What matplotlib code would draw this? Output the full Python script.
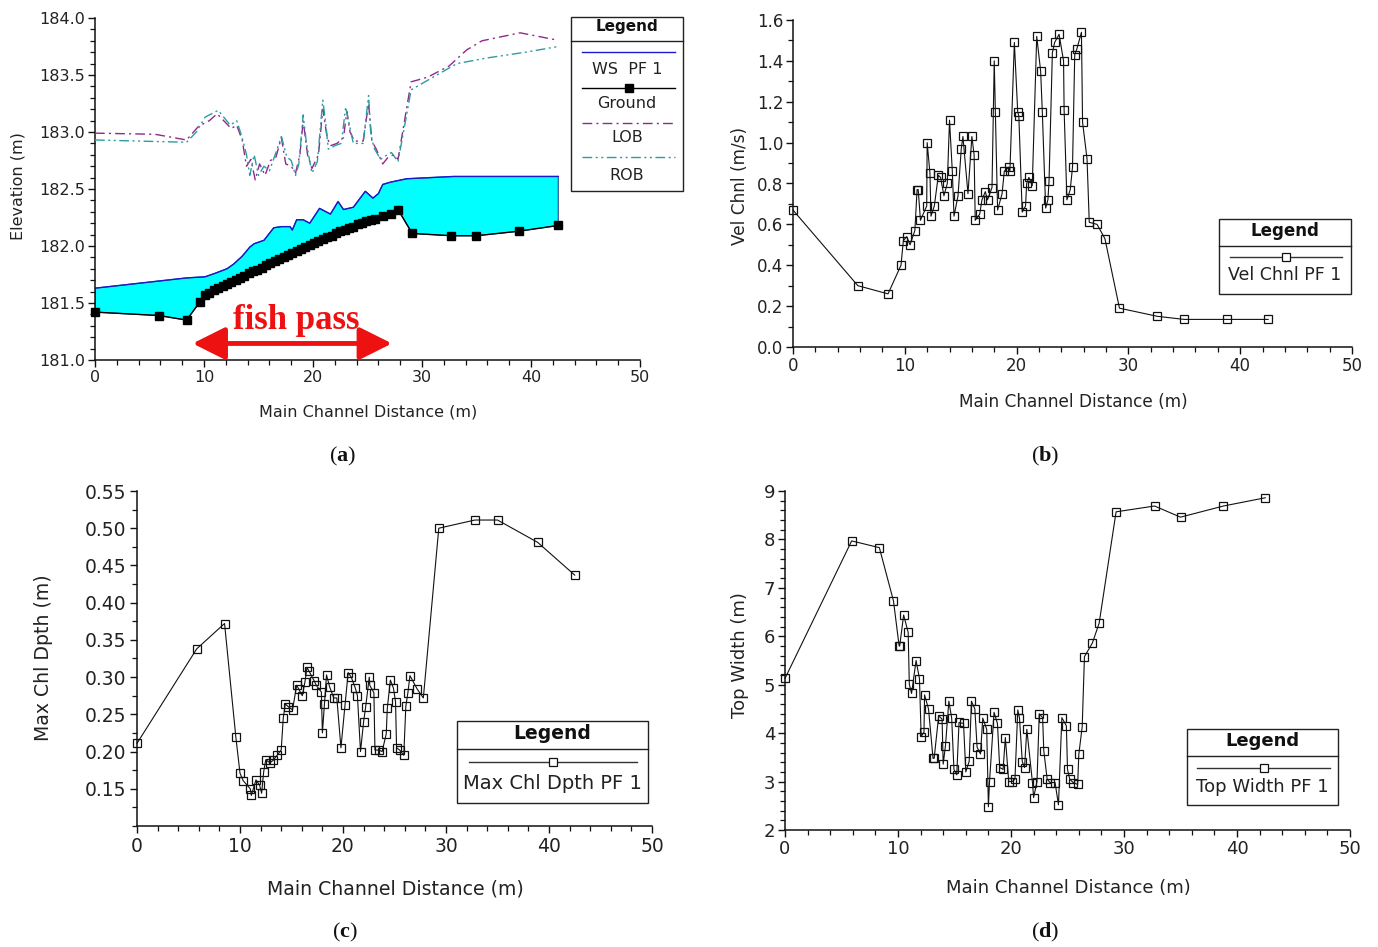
import matplotlib
matplotlib.use("Agg")
import matplotlib.pyplot as plt
from matplotlib.lines import Line2D
from matplotlib.patches import Rectangle, FancyArrowPatch
from matplotlib.ticker import MultipleLocator, FormatStrFormatter

plt.rcParams['font.family'] = ['DejaVu Sans']
plt.rcParams['mathtext.fontset'] = 'custom'
plt.rcParams['mathtext.rm'] = 'Liberation Serif'
plt.rcParams['mathtext.bf'] = 'Liberation Serif:bold'

# ---------------- data ----------------
# (a) profile
ws_x = [0, 8.4, 10.1, 11.0, 12.1, 12.7, 13.5, 14.2, 14.6, 15.5, 16.4, 17.1, 17.9, 18.1, 18.5,
        19.1, 19.7, 20.6, 21.6, 22.3, 22.8, 23.7, 24.8, 25.5, 26.0, 26.4, 27.1, 28.6, 32.9, 42.5]
ws_z = [181.63, 181.72, 181.73, 181.76, 181.80, 181.84, 181.91, 181.99, 182.02, 182.05, 182.16,
        182.17, 182.17, 182.14, 182.23, 182.23, 182.20, 182.33, 182.28, 182.39, 182.32, 182.34,
        182.48, 182.42, 182.46, 182.54, 182.56, 182.59, 182.61, 182.61]

ground_x = [0, 5.87, 8.4, 9.63, 10.1,
            10.5, 10.9, 11.3, 11.7, 12.1, 12.5, 12.9, 13.3, 13.7, 14.1, 14.5, 14.9, 15.3, 15.7,
            16.1, 16.5, 16.9, 17.3, 17.7, 18.1, 18.5, 18.9, 19.3, 19.7, 20.1, 20.5, 20.9, 21.3,
            21.7, 22.1, 22.5, 22.9, 23.3, 23.7, 24.1, 24.5, 24.9, 25.3, 25.7,
            26.45, 27.2, 27.8, 29.1, 32.7, 35.0, 38.9, 42.5]
ground_z = [181.42, 181.39, 181.35, 181.51, 181.57,
            181.59, 181.61, 181.63, 181.65, 181.67, 181.68, 181.70, 181.72, 181.74, 181.76,
            181.78, 181.79, 181.81, 181.83, 181.85, 181.87, 181.89, 181.90, 181.92, 181.94,
            181.96, 181.97, 181.99, 182.01, 182.03, 182.04, 182.06, 182.08, 182.09, 182.11,
            182.13, 182.14, 182.16, 182.17, 182.19, 182.20, 182.22, 182.23, 182.24,
            182.26, 182.28, 182.32, 182.11, 182.09, 182.09, 182.13, 182.18]

lob_x = [0, 5.5, 8.4, 9.5, 10.5, 11.2, 11.8, 12.5, 13.0, 13.5, 13.9, 14.3, 14.7, 15.1, 15.6,
         16.1, 16.6, 17.1, 17.5, 18.0, 18.4, 18.8, 19.1, 19.5, 19.9, 20.5, 20.9, 21.3, 21.6,
         22.2, 22.8, 23.1, 23.4, 23.8, 24.6, 25.1, 25.4, 25.8, 26.4, 26.9, 27.4, 27.8, 28.4,
         29.0, 30.5, 32.5, 34.1, 35.5, 39.0, 42.2]
lob_z = [182.99, 182.98, 182.93, 183.05, 183.10, 183.16, 183.10, 183.03, 183.06, 182.93, 182.70,
         182.76, 182.58, 182.72, 182.62, 182.75, 182.78, 182.95, 182.72, 182.70, 182.64, 182.80,
         183.10, 182.80, 182.68, 182.80, 183.20, 182.95, 182.88, 182.90, 182.95, 183.18, 183.00,
         182.92, 182.92, 183.25, 182.92, 182.85, 182.72, 182.78, 182.80, 182.76, 183.10, 183.44,
         183.48, 183.58, 183.72, 183.80, 183.87, 183.81]

rob_x = [0, 8.4, 9.3, 10.1, 11.3, 11.9, 12.4, 13.0, 13.5, 13.9, 14.2, 14.6, 15.0, 15.5, 16.0,
         16.6, 17.1, 17.6, 18.0, 18.4, 18.7, 19.1, 19.4, 19.9, 20.4, 20.9, 21.2, 21.4, 22.0,
         22.6, 23.0, 23.3, 23.7, 24.6, 25.1, 25.3, 25.6, 26.2, 26.8, 27.2, 27.8, 28.4, 29.0,
         31.0, 33.2, 36.0, 39.5, 42.5]
rob_z = [182.93, 182.91, 183.00, 183.13, 183.19, 183.12, 183.06, 183.10, 182.95, 182.80, 182.62,
         182.80, 182.62, 182.70, 182.66, 182.82, 182.96, 182.78, 182.75, 182.62, 182.72, 183.15,
         182.90, 182.64, 182.74, 183.28, 183.05, 182.85, 182.88, 182.90, 183.22, 183.08, 182.90,
         182.90, 183.32, 182.98, 182.86, 182.76, 182.80, 182.82, 182.74, 183.05, 183.37, 183.48,
         183.60, 183.65, 183.70, 183.75]

# (b) channel velocity
vel_x = [0, 5.8, 8.5, 9.66, 9.87, 10.17, 10.47, 10.9, 11.1, 11.2, 11.4, 11.96, 12.0, 12.25, 12.34,
         12.64, 13.0, 13.2, 13.5, 13.8, 14.0, 14.25, 14.4, 14.76, 15.05, 15.2, 15.65, 16.0, 16.2,
         16.3, 16.7, 16.9, 17.2, 17.4, 17.8, 18.0, 18.1, 18.3, 18.7, 18.9, 19.3, 19.4, 19.8, 20.1,
         20.2, 20.5, 20.8, 20.9, 21.1, 21.4, 21.8, 22.15, 22.3, 22.6, 22.8, 22.9, 23.2, 23.4, 23.8,
         24.2, 24.25, 24.5, 24.8, 25.0, 25.2, 25.4, 25.8, 25.9, 26.3, 26.5, 27.2, 27.9, 29.2, 32.6,
         35.0, 38.8, 42.5]
vel_v = [0.67, 0.30, 0.26, 0.40, 0.52, 0.54, 0.50, 0.57, 0.77, 0.77, 0.62, 0.69, 1.00, 0.85, 0.64,
         0.69, 0.84, 0.83, 0.74, 0.80, 1.11, 0.86, 0.64, 0.74, 0.97, 1.03, 0.75, 1.03, 0.94, 0.62,
         0.65, 0.72, 0.76, 0.72, 0.78, 1.40, 1.15, 0.67, 0.75, 0.86, 0.88, 0.86, 1.49, 1.15, 1.13,
         0.66, 0.69, 0.80, 0.83, 0.79, 1.52, 1.35, 1.15, 0.68, 0.72, 0.81, 1.44, 1.49, 1.53, 1.40,
         1.16, 0.72, 0.77, 0.88, 1.43, 1.46, 1.54, 1.10, 0.92, 0.61, 0.60, 0.53, 0.19, 0.15, 0.135,
         0.135, 0.135]

# (c) max channel depth
dep_x = [0, 5.8, 8.5, 9.6, 10.0, 10.3, 11.0, 11.1, 11.55, 11.9, 12.1, 12.3, 12.5, 12.9, 13.2,
         13.6, 14.0, 14.2, 14.4, 14.7, 15.1, 15.5, 15.7, 16.05, 16.3, 16.5, 16.7, 17.2, 17.4, 17.9,
         18.0, 18.2, 18.4, 18.7, 19.1, 19.4, 19.8, 20.2, 20.5, 20.8, 21.2, 21.4, 21.7, 22.0, 22.2,
         22.55, 22.6, 23.0, 23.1, 23.5, 23.8, 24.2, 24.3, 24.6, 24.9, 25.1, 25.2, 25.5, 25.9, 26.1,
         26.3, 26.5, 27.2, 27.8, 29.3, 32.8, 35.0, 38.9, 42.5]
dep_d = [0.211, 0.338, 0.372, 0.219, 0.171, 0.161, 0.150, 0.141, 0.162, 0.155, 0.144, 0.173, 0.189,
         0.185, 0.188, 0.195, 0.202, 0.245, 0.264, 0.260, 0.256, 0.289, 0.284, 0.275, 0.293, 0.313,
         0.308, 0.295, 0.289, 0.280, 0.225, 0.264, 0.303, 0.287, 0.272, 0.272, 0.205, 0.263, 0.306,
         0.300, 0.285, 0.275, 0.200, 0.240, 0.260, 0.300, 0.289, 0.279, 0.202, 0.202, 0.200, 0.224,
         0.258, 0.296, 0.285, 0.267, 0.205, 0.202, 0.195, 0.261, 0.279, 0.302, 0.284, 0.272, 0.500,
         0.511, 0.511, 0.481, 0.437]

# (d) top width
tw_x = [0, 5.9, 8.35, 9.6, 10.1, 10.15, 10.5, 10.9, 11.0, 11.2, 11.6, 11.9, 12.05, 12.3, 12.35,
        12.7, 13.1, 13.2, 13.6, 13.9, 14.0, 14.2, 14.5, 14.75, 14.95, 15.2, 15.4, 15.8, 16.0, 16.3,
        16.5, 16.8, 17.0, 17.3, 17.5, 17.85, 18.0, 18.1, 18.5, 18.8, 19.0, 19.3, 19.5, 19.8, 20.1,
        20.35, 20.6, 20.75, 21.0, 21.2, 21.4, 21.9, 22.0, 22.3, 22.5, 22.8, 22.9, 23.2, 23.45, 23.9,
        24.2, 24.5, 24.9, 25.0, 25.2, 25.5, 25.9, 26.0, 26.3, 26.5, 27.2, 27.8, 29.3, 32.7, 35.0,
        38.8, 42.5]
tw_w = [5.13, 7.97, 7.83, 6.73, 5.80, 5.80, 6.44, 6.08, 5.01, 4.82, 5.50, 5.12, 3.93, 4.02, 4.79,
        4.50, 3.48, 3.48, 4.36, 4.29, 3.36, 3.74, 4.66, 4.31, 3.25, 3.14, 4.22, 4.20, 3.20, 3.42,
        4.66, 4.50, 3.71, 3.57, 4.31, 4.08, 2.48, 3.00, 4.43, 4.20, 3.29, 3.25, 3.91, 3.00, 3.00,
        3.05, 4.48, 4.31, 3.41, 3.29, 4.08, 2.98, 2.67, 3.00, 4.40, 4.32, 3.64, 3.05, 2.98, 2.98,
        2.52, 4.32, 4.15, 3.25, 3.05, 2.98, 2.94, 3.56, 4.13, 5.58, 5.86, 6.27, 8.57, 8.69, 8.46,
        8.69, 8.86]

# ---------------- figure ----------------
W, H = 1378, 947
fig = plt.figure(figsize=(W / 100, H / 100), dpi=100)

def rect(l, t, r, b):
    return [l / W, 1 - b / H, (r - l) / W, (b - t) / H]

def fx(x):
    return x / W

def fy(y):
    return 1 - y / H

BOXES = {'a': (95, 18, 640, 360), 'b': (793, 20, 1352, 347),
         'c': (137, 491, 652, 826), 'd': (785, 491, 1350, 830)}

def style_axes(ax, box, xmaj, xmin, ymaj, ymin, fmt, tsize, yticks=None):
    for s in ('top', 'right'):
        ax.spines[s].set_visible(False)
    for s in ('left', 'bottom'):
        ax.spines[s].set_linewidth(1.1)
        ax.spines[s].set_color('#111111')
    ax.xaxis.set_major_locator(MultipleLocator(xmaj))
    ax.xaxis.set_minor_locator(MultipleLocator(xmin))
    if yticks is not None:
        ax.set_yticks(yticks)
    else:
        ax.yaxis.set_major_locator(MultipleLocator(ymaj))
    ax.yaxis.set_minor_locator(MultipleLocator(ymin))
    ax.yaxis.set_major_formatter(FormatStrFormatter(fmt))
    ax.tick_params(which='major', direction='out', length=5, width=1.0, labelsize=tsize,
                   pad=2, colors='#111111', labelcolor='#222222')
    ax.tick_params(which='minor', direction='out', length=3.5, width=0.9, colors='#111111')

def set_labels(ax, box, xl, xpos, yl, ypos, size):
    l, t, r, b = box
    ax.set_xlabel(xl, fontsize=size, color='#222222', va='center', ha='center')
    ax.set_ylabel(yl, fontsize=size, color='#222222', va='center', ha='center')
    ax.xaxis.set_label_coords((xpos[0] - l) / (r - l), (b - xpos[1]) / (b - t))
    ax.yaxis.set_label_coords((ypos[0] - l) / (r - l), (b - ypos[1]) / (b - t))

def legend_box(l, t, r, b, header_y, sep_y, hsize, entries):
    fig.add_artist(Rectangle((fx(l), fy(b)), (r - l) / W, (b - t) / H, transform=fig.transFigure,
                             fill=True, fc='white', ec='#222222', lw=1.0, zorder=5))
    fig.text(fx((l + r) / 2), fy(header_y), 'Legend', fontsize=hsize, fontweight='bold',
             ha='center', va='center', color='#111111', zorder=6)
    fig.add_artist(Line2D([fx(l), fx(r)], [fy(sep_y)] * 2, transform=fig.transFigure,
                          color='#222222', lw=1.0, zorder=6))
    for (ly, lx0, lx1, lkw, mk, ty, txt, tsize) in entries:
        fig.add_artist(Line2D([fx(lx0), fx(lx1)], [fy(ly)] * 2, transform=fig.transFigure,
                              zorder=6, **lkw))
        if mk is not None:
            fig.add_artist(Line2D([fx((lx0 + lx1) / 2)], [fy(ly)], transform=fig.transFigure,
                                  zorder=7, linestyle='none', **mk))
        fig.text(fx((l + r) / 2), fy(ty), txt, fontsize=tsize, ha='center', va='center',
                 color='#222222', zorder=6)

open_sq = dict(marker='s', markersize=6, mfc='none', mec='#111111', mew=0.9)

# ---------- (a) ----------
axA = fig.add_axes(rect(*BOXES['a']))
axA.set_xlim(0, 50)
axA.set_ylim(181.0, 184.0)
axA.fill(list(ws_x) + list(ground_x[::-1]), list(ws_z) + list(ground_z[::-1]),
         fc='#00ffff', ec='#2a4a8a', lw=0.8, zorder=1)
axA.plot(ws_x, ws_z, color='#1a1acc', lw=1.0, zorder=2)
axA.plot(lob_x, lob_z, color='#8e2a8e', lw=1.0, dashes=(7, 3, 1.5, 3), zorder=3)
axA.plot(rob_x, rob_z, color='#2a9e9e', lw=1.0, dashes=(7, 2.5, 1.5, 2.5, 1.5, 2.5), zorder=3)
axA.plot(ground_x, ground_z, color='black', lw=1.0, marker='s', markersize=5.5,
         mfc='black', mec='black', zorder=4, clip_on=False)
style_axes(axA, BOXES['a'], 10, 2, 0.5, 0.1, '%.1f', 11.5)
set_labels(axA, BOXES['a'], 'Main Channel Distance (m)', (368, 412), 'Elevation (m)', (18, 186), 11.5)
axA.text(18.5, 181.35, 'fish pass', fontsize=25, fontweight='bold', color='#ee1111',
         family='Liberation Serif', ha='center', va='center')
axA.add_patch(FancyArrowPatch((8.7, 181.145), (27.5, 181.145),
                              arrowstyle='<|-|>,head_length=0.9,head_width=0.45',
                              mutation_scale=22, color='#ee1111', lw=3.5, zorder=5))

legend_box(571, 17, 683, 191, 27, 41, 11, [
    (52, 582, 675, dict(color='#1a1acc', lw=1.0), None, 69, 'WS  PF 1', 11.5),
    (88, 582, 675, dict(color='black', lw=1.0), dict(marker='s', markersize=5.5, mfc='black', mec='black'), 104, 'Ground', 11.5),
    (123, 582, 675, dict(color='#8e2a8e', lw=1.0, dashes=(7, 3, 1.5, 3)), None, 138, 'LOB', 11.5),
    (157, 582, 675, dict(color='#2a9e9e', lw=1.0, dashes=(7, 2.5, 1.5, 2.5, 1.5, 2.5)), None, 175, 'ROB', 11.5),
])

# ---------- (b) ----------
axB = fig.add_axes(rect(*BOXES['b']))
axB.set_xlim(0, 50)
axB.set_ylim(0, 1.6)
axB.plot(vel_x, vel_v, color='#111111', lw=0.8, clip_on=False, **open_sq)
style_axes(axB, BOXES['b'], 10, 2, 0.2, 0.1, '%.1f', 12)
set_labels(axB, BOXES['b'], 'Main Channel Distance (m)', (1073, 402), 'Vel Chnl (m/s)', (740, 186), 12.2)
legend_box(1219, 219, 1351, 294, 231, 246, 12, [
    (257, 1230, 1342, dict(color='#333333', lw=1.0), dict(marker='s', markersize=6, mfc='white', mec='#111111', mew=0.9), 275, 'Vel Chnl PF 1', 12.5),
])

# ---------- (c) ----------
axC = fig.add_axes(rect(*BOXES['c']))
axC.set_xlim(0, 50)
axC.set_ylim(0.10, 0.55)
axC.plot(dep_x, dep_d, color='#111111', lw=0.8, clip_on=False, **open_sq)
style_axes(axC, BOXES['c'], 10, 2, 0.05, 0.025, '%.2f', 13.5,
           yticks=[0.15, 0.20, 0.25, 0.30, 0.35, 0.40, 0.45, 0.50, 0.55])
axC.tick_params(which='major', pad=3)
set_labels(axC, BOXES['c'], 'Main Channel Distance (m)', (395, 889), 'Max Chl Dpth (m)', (44, 658), 13.6)
legend_box(457, 721, 648, 803, 733, 749, 13.5, [
    (762, 469, 637, dict(color='#333333', lw=1.0), dict(marker='s', markersize=6, mfc='white', mec='#111111', mew=0.9), 783, 'Max Chl Dpth PF 1', 14),
])

# ---------- (d) ----------
axD = fig.add_axes(rect(*BOXES['d']))
axD.set_xlim(0, 50)
axD.set_ylim(2, 9)
axD.plot(tw_x, tw_w, color='#111111', lw=0.8, clip_on=False, **open_sq)
style_axes(axD, BOXES['d'], 10, 2, 1, 0.2, '%d', 13)
set_labels(axD, BOXES['d'], 'Main Channel Distance (m)', (1068, 888), 'Top Width (m)', (740, 655), 13)
legend_box(1187, 729, 1338, 805, 741, 756, 13, [
    (768, 1197, 1330, dict(color='#333333', lw=1.0), dict(marker='s', markersize=6, mfc='white', mec='#111111', mew=0.9), 787, 'Top Width PF 1', 13),
])

# ---------- captions ----------
for lab, (cx, cy) in {'a': (343, 456), 'b': (1045, 456), 'c': (345, 932), 'd': (1045, 932)}.items():
    fig.text(fx(cx), fy(cy), r'$\mathrm{(}\mathbf{' + lab + r'}\mathrm{)}$', fontsize=16,
             ha='center', va='center', color='#111111')

fig.savefig('out.png', dpi=100)
